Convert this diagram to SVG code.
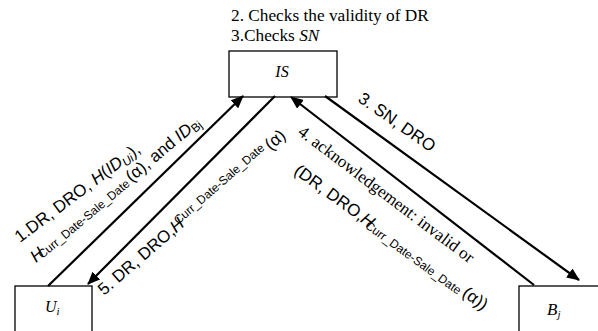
<svg xmlns="http://www.w3.org/2000/svg" width="598" height="331" viewBox="0 0 598 331">
  <style>
    .box { fill: #ffffff; stroke: #000000; stroke-width: 1.3; }
    .serif { font-family: "Liberation Serif", "Times New Roman", serif; fill: #000; }
    .sans { font-family: "Liberation Sans", Arial, sans-serif; fill: #000; }
    .it { font-style: italic; }
    .sm { font-size: 12px; }
    .edge { stroke: #000; stroke-width: 2.2; fill: none; }
  </style>
  <defs>
    <marker id="arrow" viewBox="0 0 13 11" refX="12" refY="5.5" markerWidth="13" markerHeight="11" markerUnits="userSpaceOnUse" orient="auto">
      <path d="M0,0 L13,5.5 L0,11 Z" fill="#000"/>
    </marker>
  </defs>

  <rect width="598" height="331" fill="#ffffff"/>

  <!-- notes above the server -->
  <g id="notes" class="serif" font-size="17.3">
    <text x="231" y="21">2. Checks the validity of DR</text>
    <text x="231" y="41">3.Checks <tspan class="it">SN</tspan></text>
  </g>

  <!-- nodes -->
  <g id="node-IS">
    <rect class="box" x="229" y="51" width="108" height="46"/>
    <text class="serif it" x="282" y="77" font-size="16" text-anchor="middle">IS</text>
  </g>
  <g id="node-Ui">
    <rect class="box" x="15" y="286" width="77" height="60"/>
    <text class="serif it" x="45" y="312" font-size="16">U<tspan font-size="11" dy="3">i</tspan></text>
  </g>
  <g id="node-Bj">
    <rect class="box" x="519" y="286" width="90" height="60"/>
    <text class="serif it" x="547" y="315" font-size="17">B<tspan font-size="11" dy="3">j</tspan></text>
  </g>

  <!-- connectors -->
  <g id="connectors">
    <line class="edge" x1="48" y1="286" x2="243" y2="96" marker-end="url(#arrow)"/>
    <line class="edge" x1="275" y1="96" x2="88" y2="284" marker-end="url(#arrow)"/>
    <line class="edge" x1="534" y1="285" x2="291" y2="97" marker-end="url(#arrow)"/>
    <line class="edge" x1="325" y1="96" x2="579" y2="280" marker-end="url(#arrow)"/>
  </g>

  <!-- connector labels -->
  <g id="labels" class="sans" font-size="17">
    <text transform="translate(20,243) rotate(-37)">1.DR, DRO, <tspan class="it">H</tspan>(<tspan class="it">ID</tspan><tspan class="it sm" dy="3">Ui</tspan><tspan dy="-3">),</tspan></text>
    <text transform="translate(36,263) rotate(-40)"><tspan class="it">H</tspan><tspan class="sm" dx="-5" dy="1">Curr_Date-Sale_Date</tspan><tspan dx="2" dy="-1">(α), and </tspan><tspan class="it">ID</tspan><tspan class="sm" dy="3">Bj</tspan></text>
    <text transform="translate(104,296) rotate(-41)">5. DR, DRO,<tspan class="it">H</tspan><tspan class="sm" dx="-5" dy="-5">Curr_Date-Sale_Date</tspan><tspan dx="3" dy="5">(α)</tspan></text>
    <text transform="translate(357,101) rotate(35)">3. SN, DRO</text>
    <text class="serif" transform="translate(297,134) rotate(37)">4. acknowledgement: invalid or</text>
    <text transform="translate(293,173) rotate(36)">(DR, DRO,<tspan class="it">H</tspan><tspan class="sm" dx="-5" dy="2">Curr_Date-Sale_Date</tspan><tspan dx="3" dy="-2">(α))</tspan></text>
  </g>
</svg>
